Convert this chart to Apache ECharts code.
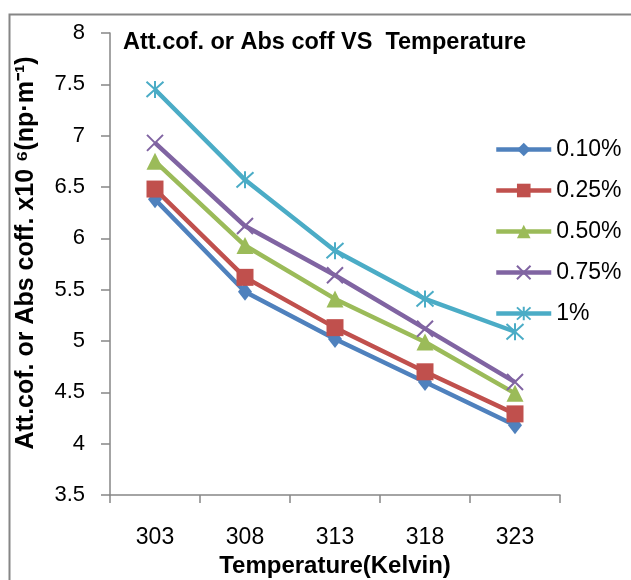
<!DOCTYPE html>
<html><head><meta charset="utf-8">
<script src="https://cdn.jsdelivr.net/npm/echarts@6/dist/echarts.min.js"></script>
<style>html,body{margin:0;padding:0;background:#fff}#c{width:631px;height:580px}</style>
</head><body><div id="c"></div>
<script>
const categories = ['303', '308', '313', '318', '323'];
const seriesNames = ['0.10%', '0.25%', '0.50%', '0.75%', '1%'];
const s010 = [6.38, 5.48, 5.02, 4.60, 4.18];
const s025 = [6.48, 5.62, 5.13, 4.70, 4.29];
const s050 = [6.75, 5.93, 5.41, 4.99, 4.49];
const s075 = [6.93, 6.12, 5.64, 5.12, 4.60];
const s100 = [7.45, 6.57, 5.88, 5.41, 5.09];
const yTicks = [3.5, 4, 4.5, 5, 5.5, 6, 6.5, 7, 7.5, 8];

const colors = ['#4F81BD', '#C0504D', '#9BBB59', '#8064A2', '#4BACC6'];
const symbols = ['diamond', 'rect', 'triangle',
  'path://M0,0L10,10M10,0L0,10',
  'path://M5,0L5,10M0.5,0.5L9.5,9.5M9.5,0.5L0.5,9.5'];
const sizes = [[14, 18], 17, 17, 16, 17];
const allData = [s010, s025, s050, s075, s100];
const FONT = '"Liberation Sans", Arial, sans-serif';

const chart = echarts.init(document.getElementById('c'));
chart.setOption({
  animation: false,
  backgroundColor: '#fff',
  graphic: [{
    type: 'rect', left: 7, top: 12, shape: {width: 640, height: 600},
    style: {fill: 'none', stroke: '#868686', lineWidth: 2}, z: -1
  }],
  title: {
    text: 'Att.cof. or Abs coff VS  Temperature',
    left: 118, top: 26,
    textStyle: {fontFamily: FONT, fontWeight: 'bold', fontSize: 23.5, color: '#000'}
  },
  legend: {
    orient: 'vertical', left: 494, top: 138, padding: 0,
    itemWidth: 55, itemHeight: 17, itemGap: 18,
    lineStyle: {width: 4.5},
    textStyle: {fontFamily: FONT, fontSize: 23, color: '#000', lineHeight: 23},
    data: seriesNames
  },
  grid: {left: 110, right: 71, top: 33, bottom: 85, containLabel: false, outerBoundsMode: 'none'},
  xAxis: {
    type: 'category', data: categories, boundaryGap: true,
    name: 'Temperature(Kelvin)', nameLocation: 'middle', nameGap: 57,
    nameTextStyle: {fontFamily: FONT, fontWeight: 'bold', fontSize: 24, color: '#000'},
    axisLine: {lineStyle: {color: '#868686', width: 1.5}},
    axisTick: {show: true, length: 8, inside: false, lineStyle: {color: '#868686', width: 1.5}},
    axisLabel: {fontFamily: FONT, fontSize: 23, color: '#000', margin: 31},
    splitLine: {show: false}
  },
  yAxis: {
    type: 'value', min: yTicks[0], max: yTicks[yTicks.length - 1], interval: 0.5,
    name: 'Att.cof. or Abs coff. x10 \u2076(np\u00b7m\u207b\u00b9)', nameLocation: 'middle', nameGap: 71, nameRotate: 90,
    nameTextStyle: {fontFamily: FONT, fontWeight: 'bold', fontSize: 25, color: '#000', padding: [0, 0, 0, 22]},
    axisLine: {show: true, lineStyle: {color: '#868686', width: 1.5}},
    axisTick: {show: true, length: 9, lineStyle: {color: '#868686', width: 1.5}},
    axisLabel: {fontFamily: FONT, fontSize: 22, color: '#000', margin: 25},
    splitLine: {show: false}
  },
  series: seriesNames.map((n, i) => ({
    name: n, type: 'line', data: allData[i],
    symbol: symbols[i], symbolSize: sizes[i], showAllSymbol: true,
    lineStyle: {color: colors[i], width: 4.5},
    itemStyle: i >= 3 ? {color: colors[i], borderColor: colors[i], borderWidth: 2} : {color: colors[i], borderColor: colors[i], borderWidth: 0},
    emphasis: {disabled: true}
  }))
});
</script></body></html>
